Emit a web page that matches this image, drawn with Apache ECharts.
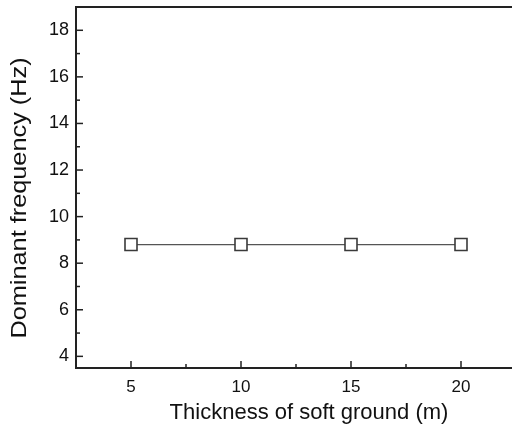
<!DOCTYPE html>
<html>
<head>
<meta charset="utf-8">
<script src="https://cdn.jsdelivr.net/npm/echarts@6/dist/echarts.min.js"></script>
<style>
  html, body { margin: 0; padding: 0; background: #fff; }
  #chart { width: 512px; height: 428px; }
</style>
</head>
<body>
<div id="chart"></div>
<script>
// Ground thickness (m) and the dominant frequency measured for each
const thickness = [5, 10, 15, 20];
const dominantFreq = [8.8, 8.8, 8.8, 8.8];
const xTicks = [5, 10, 15, 20];
const yTicks = [4, 6, 8, 10, 12, 14, 16, 18];
const yTitle = 'Dominant frequency (Hz)';

const chart = echarts.init(document.getElementById('chart'), null, { renderer: 'canvas' });
const font = 'Liberation Sans, Arial, sans-serif';
const axisColor = '#222';

chart.setOption({
  animation: false,
  backgroundColor: '#fff',
  grid: {
    left: 76, top: 7, width: 440, height: 361,
    outerBoundsMode: 'none',
    containLabel: false,
    show: true, borderColor: axisColor, borderWidth: 2, backgroundColor: 'transparent'
  },
  xAxis: {
    type: 'value',
    min: 2.5, max: 22.5,
    interval: 2.5,
    name: 'Thickness of soft ground (m)',
    nameLocation: 'middle',
    nameGap: 34,
    nameTextStyle: { fontFamily: font, fontSize: 22, color: '#111', padding: [0, 0, 0, 26] },
    axisLine: { show: true, lineStyle: { color: axisColor, width: 2 } },
    axisTick: { show: false },
    splitLine: { show: false },
    axisLabel: {
      fontFamily: font, fontSize: 17, color: '#111', margin: 11,
      formatter: v => (xTicks.indexOf(v) >= 0 ? String(v) : '')
    }
  },
  yAxis: {
    type: 'value',
    min: 3.5, max: 19,
    interval: 0.5,
    axisLine: { show: true, lineStyle: { color: axisColor, width: 2 } },
    axisTick: { show: false },
    splitLine: { show: false },
    axisLabel: {
      fontFamily: font, fontSize: 18, color: '#111', margin: 7,
      showMinLabel: true, showMaxLabel: true,
      formatter: v => (yTicks.indexOf(v) >= 0 ? String(v) : '')
    }
  },
  series: [
    {
      type: 'line',
      data: thickness.map((t, i) => [t, dominantFreq[i]]),
      symbol: 'rect',
      symbolSize: 12,
      lineStyle: { color: '#555', width: 1.2 },
      itemStyle: { color: '#fff', borderColor: '#3a3a3a', borderWidth: 1.6 },
      z: 5
    }
  ]
});

// Inward axis ticks (major and minor) and the y-axis title
function drawDecorations() {
  const els = [];
  const tick = (x1, y1, x2, y2) => els.push({
    type: 'line', shape: { x1, y1, x2, y2 },
    style: { stroke: axisColor, lineWidth: 1.5 }, silent: true
  });
  for (let v = 5; v <= 20; v += 5) {
    const p = chart.convertToPixel({ gridIndex: 0 }, [v, 3.5]);
    tick(p[0], p[1], p[0], p[1] - 7);
  }
  for (let v = 7.5; v <= 22; v += 5) {
    const p = chart.convertToPixel({ gridIndex: 0 }, [v, 3.5]);
    tick(p[0], p[1], p[0], p[1] - 4);
  }
  for (let v = 4; v <= 18; v += 2) {
    const p = chart.convertToPixel({ gridIndex: 0 }, [2.5, v]);
    tick(p[0], p[1], p[0] + 7, p[1]);
  }
  for (let v = 5; v <= 19; v += 2) {
    const p = chart.convertToPixel({ gridIndex: 0 }, [2.5, v]);
    tick(p[0], p[1], p[0] + 4, p[1]);
  }
  els.push({
    type: 'text',
    x: 20, y: 198,
    rotation: Math.PI / 2,
    scaleX: 1.15,
    style: {
      text: yTitle, fontFamily: font, fontSize: 22, fill: '#111',
      align: 'center', verticalAlign: 'middle'
    },
    silent: true
  });
  chart.setOption({ graphic: els });
}
drawDecorations();
</script>
</body>
</html>
